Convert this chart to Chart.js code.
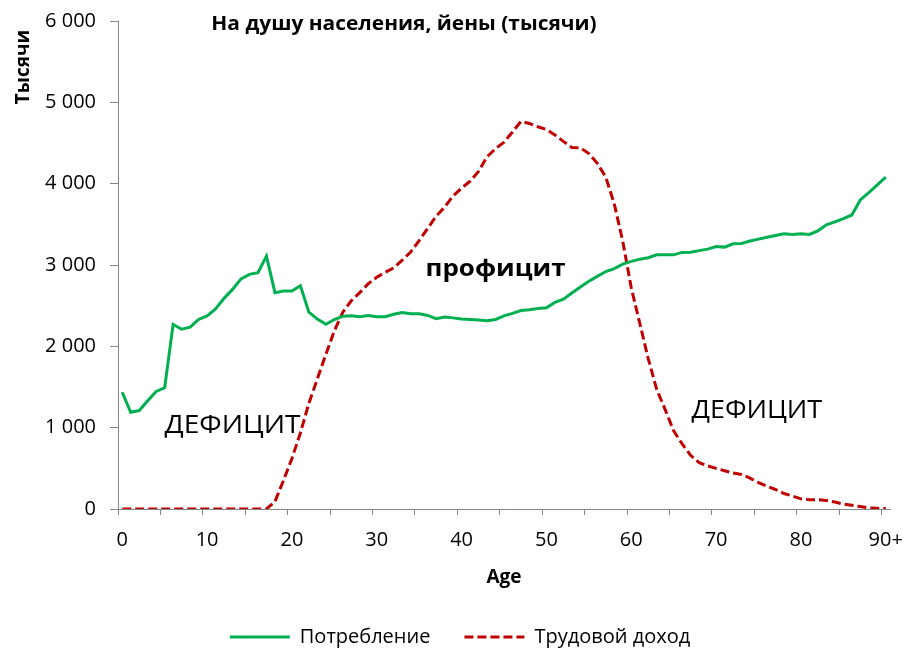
<!DOCTYPE html>
<html><head><meta charset="utf-8">
<script src="https://cdn.jsdelivr.net/npm/chart.js@4"></script>
<style>html,body{margin:0;padding:0;background:#fff;overflow:hidden}canvas{display:block}</style>
</head><body><canvas id="c" width="904" height="652" style="width:904px;height:652px"></canvas>
<script>
const ageLabels = ['0','1','2','3','4','5','6','7','8','9','10','11','12','13','14','15','16','17','18','19','20','21','22','23','24','25','26','27','28','29','30','31','32','33','34','35','36','37','38','39','40','41','42','43','44','45','46','47','48','49','50','51','52','53','54','55','56','57','58','59','60','61','62','63','64','65','66','67','68','69','70','71','72','73','74','75','76','77','78','79','80','81','82','83','84','85','86','87','88','89','90+'];

const consumption = [1435,1190,1210,1330,1445,1490,2270,2210,2235,2330,
  2375,2460,2590,2700,2830,2885,2905,3110,2660,2680,
  2680,2745,2420,2335,2270,2330,2370,2375,2365,2380,
  2365,2365,2395,2415,2400,2400,2380,2340,2360,2350,
  2335,2330,2325,2315,2330,2375,2405,2440,2450,2465,
  2475,2540,2580,2655,2730,2800,2860,2920,2955,3010,
  3045,3070,3090,3125,3125,3125,3155,3157,3177,3195,
  3227,3220,3260,3265,3295,3318,3342,3362,3383,3375,
  3383,3375,3420,3495,3530,3570,3615,3800,3890,3985,
  4080];

const laborIncome = [0,0,0,0,0,0,0,0,0,0,
  0,0,0,0,0,0,0,0,90,350,
  620,935,1300,1600,1900,2190,2420,2560,2660,2770,
  2850,2910,2965,3060,3160,3300,3450,3600,3710,3850,
  3945,4031,4150,4330,4430,4510,4635,4765,4740,4700,
  4667,4600,4520,4445,4440,4370,4250,4080,3750,3290,
  2720,2285,1850,1470,1222,960,800,660,570,530,
  500,470,443,425,380,325,280,240,190,160,
  125,114,114,105,85,60,45,30,12,8,
  5];

const yTickLabels = ['0','1 000','2 000','3 000','4 000','5 000','6 000'];
const seriesNames = ['Потребление','Трудовой доход'];
const chartTitle = 'На душу населения, йены (тысячи)';
const yAxisTitle = 'Тысячи';
const xAxisTitle = 'Age';
const annotations = [
  {text:'ДЕФИЦИТ', age:13.0, value:930, bold:false, size:26},
  {text:'профицит', age:44.0, value:2862, bold:true, size:24},
  {text:'ДЕФИЦИТ', age:74.8, value:1120, bold:false, size:25}
];

const FONT = '"Open Sans", "DejaVu Sans", sans-serif';
const AXIS = '#868686';
const W = 904, H = 652;
const PAD = {left:30, right:14, top:21, bottom:-5};
const STRETCH = 1.08;

const textPlugin = {
  id:'texts',
  afterDraw(chart){
    const {ctx, scales:{x, y}} = chart;
    const put = (txt, px, py) => {
      ctx.save(); ctx.translate(px, py); ctx.scale(STRETCH, 1); ctx.fillText(txt, 0, 0); ctx.restore();
    };
    ctx.save();
    ctx.fillStyle = '#000';
    ctx.textAlign = 'center';
    ctx.textBaseline = 'middle';
    ctx.font = 'bold 19px ' + FONT;
    ctx.save(); ctx.translate(404, 25); ctx.scale(1.1, 1); ctx.fillText(chartTitle, 0, 0); ctx.restore();
    ctx.save();
    ctx.translate(24, 67);
    ctx.rotate(-Math.PI/2);
    ctx.fillText(yAxisTitle, 0, 0);
    ctx.restore();
    ctx.textBaseline = 'alphabetic';
    annotations.forEach(a => {
      ctx.font = (a.bold ? 'bold ' : '') + a.size + 'px ' + FONT;
      put(a.text, x.getPixelForValue(a.age), y.getPixelForValue(a.value));
    });
    ctx.restore();
  }
};

Chart.defaults.font.family = FONT;
Chart.defaults.color = '#000';

new Chart(document.getElementById('c'), {
  type:'line',
  data:{
    labels: ageLabels,
    datasets:[
      {label:seriesNames[0], data:consumption, borderColor:'#00B050', backgroundColor:'#00B050',
       borderWidth:3, pointRadius:0, tension:0, fill:false},
      {label:seriesNames[1], data:laborIncome, borderColor:'#C00000', backgroundColor:'#C00000',
       borderWidth:3, borderDash:[9,4], pointRadius:0, tension:0, fill:false}
    ]
  },
  options:{
    responsive:false, maintainAspectRatio:false, animation:false, devicePixelRatio:1,
    layout:{padding:PAD, autoPadding:false},
    plugins:{
      legend:{position:'bottom',
        labels:{usePointStyle:true, pointStyle:'line', pointStyleWidth:60, boxHeight:20,
          padding:34, font:{size:20}, color:'#000',
          generateLabels:(chart)=>{
            const items = Chart.defaults.plugins.legend.labels.generateLabels(chart);
            items.forEach(it => {
              const ds = chart.data.datasets[it.datasetIndex];
              it.lineDash = ds.borderDash || [];
              it.lineWidth = ds.borderWidth;
              it.strokeStyle = ds.borderColor;
              it.fillStyle = ds.borderColor;
              it.pointStyle = 'line';
              it.lineCap = 'butt';
            });
            return items;
          }}},
      tooltip:{enabled:false},
      title:{display:false}
    },
    scales:{
      x:{
        type:'category', offset:true,
        grid:{offset:true, drawOnChartArea:false, tickLength:6, lineWidth:1,
          color:(c)=> (c.index !== undefined && c.index % 5 === 0) ? AXIS : 'rgba(0,0,0,0)'},
        border:{color:AXIS, width:1},
        ticks:{autoSkip:false, maxRotation:0, minRotation:0, padding:13, font:{size:20},
          callback:(v, i)=> i % 10 === 0 ? ageLabels[i] : ''},
        title:{display:true, text:xAxisTitle, font:{size:19, weight:'bold'}, padding:{top:4,bottom:4}},
        afterFit:(s)=>{
          const lg = s.chart.legend;
          s.height = H - 509 - (lg ? lg.height : 0) - PAD.bottom;
          s.paddingLeft = 0; s.paddingRight = 0; s.paddingTop = 0; s.paddingBottom = 0;
        }
      },
      y:{
        min:0, max:6000,
        grid:{drawOnChartArea:false, tickLength:8, color:AXIS},
        border:{color:AXIS, width:1},
        ticks:{stepSize:1000, padding:14, font:{size:20},
          callback:(v, i)=> yTickLabels[i]},
        afterFit:(s)=>{
          s.width = 118 - PAD.left;
          s.paddingLeft = 0; s.paddingRight = 0; s.paddingTop = 0; s.paddingBottom = 0;
        }
      }
    }
  },
  plugins:[textPlugin]
});
</script></body></html>
